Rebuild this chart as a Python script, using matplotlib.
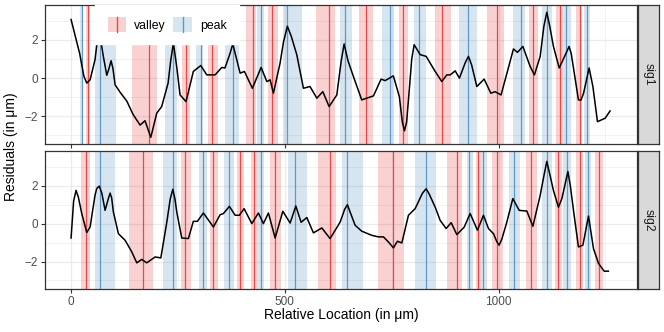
import matplotlib
matplotlib.use("Agg")
import matplotlib.pyplot as plt
from matplotlib.patches import Patch, Rectangle
from matplotlib.lines import Line2D
from matplotlib.legend_handler import HandlerBase

plt.rcParams['font.family'] = ['Liberation Sans', 'DejaVu Sans']

# residual curves (location in um, residual in um)
sig1_x = [0, 20, 30, 36.7, 44.5, 56, 60, 66.7, 75, 83.5, 88, 93.6, 98, 103, 114.7, 130.3, 145,
          161.5, 173, 186.5, 200.5, 212, 227, 233, 239.4, 244, 247, 255, 269, 286, 303.5, 317.5,
          337, 352.6, 360, 372, 378.4, 385, 395.5, 405.5, 424.2, 444.6, 458, 465.7, 473.4, 489,
          497, 506, 515, 528, 543.6, 559, 575, 589, 603.7, 621.7, 632, 638.8, 648, 660.6, 680,
          707.4, 725.4, 734.8, 754, 768, 775, 780, 785, 789.3, 797, 802.6, 816.7, 830.7, 851.8,
          867.4, 879, 887, 898.6, 908.6, 922, 929.7, 937, 949.3, 966.4, 982, 992, 1006, 1035,
          1044.4, 1057, 1074, 1084, 1097.5, 1106, 1113, 1120, 1128.5, 1142, 1160, 1165, 1170,
          1175.4, 1187, 1193, 1199, 1212, 1220.8, 1231.5, 1249.5, 1261]
sig1_y = [3.07, 1.3, 0.1, -0.26, -0.09, 0.96, 1.7, 2.4, 1.2, 0.15, 0.45, 0.91, 0.5, -0.35, -0.74,
          -1.2, -1.9, -2.46, -2.23, -3.1, -1.83, -1.49, -0.26, 0.9, 1.84, 1.1, 0.61, -0.88, -1.23,
          0.35, 0.66, 0.17, 0.17, 0.56, 0.53, 1.3, 1.79, 1.2, 0.26, 0.35, -0.53, 0.56, -0.18, -0.09,
          -0.79, 0.79, 1.9, 2.72, 2.2, 1.23, -0.53, -0.44, -1.05, -0.71, -1.49, -0.88, 0.9, 1.79,
          0.9, 0.08, -1.14, -0.93, -0.05, -0.13, 0.12, -0.97, -2.3, -2.76, -2.3, -1.14, 1.0, 1.75,
          1.23, 1.14, 0.35, -0.18, 0.17, 0.17, 0.38, 0.0, 0.8, 1.14, 0.7, -0.44, -0.05, -0.79,
          -0.71, -0.88, 1.53, 1.35, 1.66, 0.61, 0.17, 1.14, 2.7, 3.45, 2.7, 1.66, 0.53, 1.4, 1.66,
          1.3, 0.53, -1.14, -1.15, -0.79, 0.53, -0.44, -2.28, -2.1, -1.72]

sig2_x = [0, 6, 11.7, 17, 25, 36.7, 44.5, 56, 60, 66, 72, 79.6, 87, 91.3, 95, 99, 110.7, 126.4,
          142, 153.7, 165.4, 177, 196.6, 210, 224, 232, 238, 243, 247.3, 259, 274.5, 286, 295.5,
          309.6, 333, 348.7, 356.4, 370.4, 383.8, 393.8, 404.8, 422.8, 438.3, 450, 461.7, 477.4,
          495.4, 512.5, 525.8, 538.2, 551.5, 567, 586.6, 606, 629.5, 640, 646.5, 653, 664.6, 680,
          703.6, 719, 730.8, 742.5, 754.2, 763.5, 773.8, 789.3, 805, 822, 830.7, 838, 851.8,
          863.5, 877.5, 889.2, 902.5, 919.6, 933.7, 950.7, 964.8, 976.5, 988.2, 996, 1001.5,
          1008, 1019.5, 1033.5, 1048.3, 1066.3, 1080.4, 1097.5, 1106, 1113, 1120, 1128.5,
          1140.3, 1148.2, 1157, 1162.3, 1168, 1175.4, 1187, 1197.4, 1210.5, 1222.2, 1233.9,
          1247.2, 1257]
sig2_y = [-0.76, 1.2, 1.75, 1.4, 0.53, -0.47, -0.18, 1.49, 1.85, 1.98, 1.6, 0.7, 1.3, 1.61, 1.35,
          0.61, -0.53, -0.88, -1.49, -2.07, -1.89, -2.07, -1.76, -1.81, 0.08, 1.3, 1.81, 1.3, 0.61,
          -0.76, -0.79, 0.12, 0.12, 0.56, -0.18, 0.47, 0.53, 0.91, 0.44, 0.44, 0.79, 0.0, 0.56,
          0.0, 0.56, -0.76, 0.65, 0.03, 0.93, 0.07, 0.32, -0.49, -0.23, -0.79, 0.08, 0.75, 1.0,
          0.6, -0.09, -0.4, -0.62, -0.7, -0.7, -0.97, -1.28, -0.93, -1.02, 0.44, 0.79, 1.6, 1.84,
          1.55, 0.87, 0.17, -0.26, 0.05, -0.58, -0.19, 0.53, -0.35, 0.44, -0.26, -0.53, -0.95,
          -1.14, -0.8, 0.08, 1.32, 0.7, 0.66, -0.14, 1.49, 2.5, 3.28, 2.6, 1.75, 0.86, 1.32, 2.2,
          2.75, 2.0, 0.7, -1.23, -1.14, 0.4, -1.32, -2.1, -2.51, -2.51]

# detected features: (band start, band end, location)
sig1_peaks = [(21, 28, 25), (56, 105, 68), (220, 248, 239), (292, 309, 304), (360, 393, 379),
              (435, 452, 444), (496, 540, 505), (629, 657, 641), (728, 756, 746),
              (802, 831, 814), (908, 950, 929), (1034, 1062, 1053), (1102, 1125, 1114),
              (1151, 1170, 1158), (1200, 1214, 1207)]
sig1_valleys = [(34, 44, 39), (143, 201, 182), (260, 278, 269), (320, 344, 330), (409, 433, 426),
                (461, 484, 470), (573, 618, 604), (674, 707, 690), (767, 788, 777),
                (852, 889, 868), (973, 1013, 997), (1072, 1093, 1081), (1135, 1151, 1144),
                (1181, 1196, 1191)]
sig2_peaks = [(56, 103, 68), (215, 248, 238), (300, 318, 308), (358, 381, 370), (435, 452, 444),
              (508, 552, 524), (634, 683, 646), (805, 854, 830), (926, 941, 931),
              (959, 973, 964), (1025, 1050, 1036), (1102, 1125, 1114), (1151, 1170, 1160),
              (1203, 1217, 1210)]
sig2_valleys = [(23, 44, 35), (136, 192, 169), (257, 281, 267), (325, 344, 331), (388, 405, 395),
                (421, 435, 428), (466, 491, 477), (578, 620, 606), (718, 779, 753),
                (880, 915, 902), (948, 959, 952), (985, 1011, 997), (1065, 1090, 1076),
                (1133, 1149, 1140), (1182, 1198, 1191), (1226, 1245, 1235)]

panels = [("sig1", sig1_x, sig1_y, sig1_peaks, sig1_valleys),
          ("sig2", sig2_x, sig2_y, sig2_peaks, sig2_valleys)]

red = '#E41A1C'
blue = '#377EB8'
W, H = 664, 332


class BandKey(HandlerBase):
    # legend key: shaded band with a vertical line through the middle
    def create_artists(self, legend, orig_handle, xdescent, ydescent, width, height,
                       fontsize, trans):
        c = orig_handle.get_facecolor()[:3]
        r = Rectangle((-xdescent, -ydescent), width, height, facecolor=c, alpha=0.2,
                      lw=0, transform=trans)
        l = Line2D([-xdescent + width / 2] * 2, [-ydescent, -ydescent + height], color=c,
                   alpha=0.75, lw=1.0, transform=trans)
        return [r, l]


fig = plt.figure(figsize=(W / 100, H / 100), dpi=100)

axes = []
for i, (name, xs, ys, peaks, valleys) in enumerate(panels):
    top = 5 if i == 0 else 151
    bot = 144 if i == 0 else 289
    ax = fig.add_axes([45 / W, 1 - bot / H, 592 / W, (bot - top) / H])
    axes.append(ax)

    for lo, hi, loc in valleys:
        ax.axvspan(lo, hi, color=red, alpha=0.2, lw=0, zorder=1)
        ax.axvline(loc, color=red, alpha=0.75, lw=0.9, zorder=2)
    for lo, hi, loc in peaks:
        ax.axvspan(lo, hi, color=blue, alpha=0.2, lw=0, zorder=1)
        ax.axvline(loc, color=blue, alpha=0.75, lw=0.9, zorder=2)

    ax.plot(xs, ys, color='black', lw=1.1, zorder=3, solid_joinstyle='round')

    ax.set_xlim(-61, 1324)
    ax.set_ylim(-3.45, 3.83)
    ax.set_xticks([0, 500, 1000])
    ax.set_xticks([250, 750, 1250], minor=True)
    ax.set_yticks([-2, 0, 2])
    ax.set_yticks([-3, -1, 1, 3], minor=True)
    ax.grid(True, which='major', color='#EBEBEB', lw=0.9, zorder=0)
    ax.grid(True, which='minor', color='#EBEBEB', lw=0.45, zorder=0)
    ax.set_axisbelow(True)
    for s in ax.spines.values():
        s.set_color('#333333')
        s.set_linewidth(0.9)
    ax.tick_params(which='major', length=3, width=0.8, color='#333333',
                   labelsize=8.5, labelcolor='#4D4D4D', pad=2)
    ax.tick_params(which='minor', length=0)
    if i == 0:
        ax.tick_params(labelbottom=False)

    # facet strip
    sax = fig.add_axes([638 / W, 1 - bot / H, 21 / W, (bot - top) / H])
    sax.set_facecolor('#D9D9D9')
    sax.set_xticks([])
    sax.set_yticks([])
    for s in sax.spines.values():
        s.set_color('#333333')
        s.set_linewidth(0.9)
    sax.text(0.5, 0.5, name, rotation=-90, ha='center', va='center',
             fontsize=8.8, color='#1A1A1A', transform=sax.transAxes)

h_valley = Patch(facecolor=red)
h_peak = Patch(facecolor=blue)
leg = axes[0].legend([h_valley, h_peak], ['valley', 'peak'], ncol=2,
                     handler_map={h_valley: BandKey(), h_peak: BandKey()},
                     loc='upper left', bbox_to_anchor=(0.085, 1.0), borderaxespad=0,
                     frameon=True, fancybox=False, fontsize=8.8,
                     handlelength=1.55, handleheight=1.5,
                     columnspacing=0.6, handletextpad=0.65, borderpad=1.0)
leg.get_frame().set_facecolor('white')
leg.get_frame().set_edgecolor('white')
leg.get_frame().set_alpha(1)
leg.set_zorder(10)

fig.text(341 / W, 1 - 315 / H, 'Relative Location (in μm)', ha='center', va='center',
         fontsize=10, color='black')
fig.text(11 / W, 1 - 147 / H, 'Residuals (in μm)', ha='center', va='center',
         rotation=90, fontsize=10, color='black')

fig.savefig('out.png', dpi=100)
